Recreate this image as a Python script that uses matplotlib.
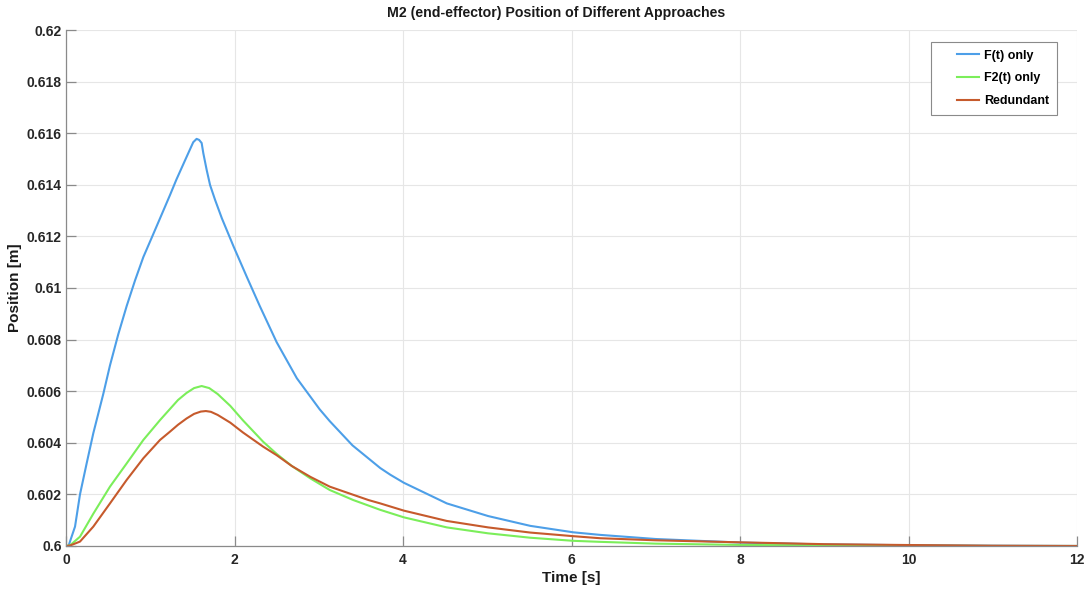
import numpy as np
import matplotlib.pyplot as plt
from matplotlib.legend_handler import HandlerLine2D

# values (time in s, position in m)
t_f = [0.0, 0.03, 0.05, 0.107, 0.166, 0.245, 0.324, 0.443, 0.522, 0.62, 0.72, 0.82, 0.918,
       1.02, 1.116, 1.234, 1.31, 1.42, 1.51, 1.55, 1.58, 1.61, 1.63, 1.67, 1.71, 1.77, 1.85,
       1.99, 2.15, 2.30, 2.50, 2.74, 3.01, 3.13, 3.40, 3.73, 3.85, 4.01, 4.52, 5.01, 5.51,
       6.02, 6.34, 7.0, 8.02, 9.0, 10.0, 11.0, 12.0]
pos_f = [0.6, 0.6, 0.6002, 0.60075, 0.6020, 0.6032, 0.60437, 0.6059, 0.6070, 0.6082, 0.6093,
         0.6103, 0.6112, 0.61197, 0.6127, 0.6136, 0.6142, 0.6150, 0.61565, 0.61578, 0.61574,
         0.61562, 0.61522, 0.61457, 0.61399, 0.61341, 0.6127, 0.6116, 0.6104, 0.6093, 0.6079,
         0.6065, 0.6053, 0.60484, 0.6039, 0.60302, 0.60276, 0.60245, 0.60165, 0.60116,
         0.60078, 0.60053, 0.60043, 0.60027, 0.60013, 0.60006, 0.60003, 0.60001, 0.6]

t_f2 = [0.0, 0.05, 0.166, 0.324, 0.522, 0.72, 0.918, 1.116, 1.33, 1.43, 1.52, 1.61, 1.70,
        1.80, 1.95, 2.10, 2.34, 2.50, 2.68, 2.90, 3.13, 3.41, 3.73, 4.01, 4.52, 5.01, 5.51,
        6.02, 6.34, 7.0, 8.02, 9.0, 10.0, 11.0, 12.0]
pos_f2 = [0.6, 0.60003, 0.60036, 0.60125, 0.6023, 0.6032, 0.60411, 0.60488, 0.60566,
          0.60593, 0.60612, 0.6062, 0.60612, 0.60589, 0.60543, 0.60487, 0.60404, 0.60357,
          0.6031, 0.60262, 0.60217, 0.60178, 0.6014, 0.60111, 0.60072, 0.60049, 0.60032,
          0.6002, 0.60016, 0.60009, 0.60004, 0.60002, 0.60001, 0.6, 0.6]

t_red = [0.0, 0.05, 0.166, 0.324, 0.522, 0.72, 0.918, 1.116, 1.23, 1.33, 1.43, 1.52, 1.60,
         1.66, 1.72, 1.80, 1.95, 2.10, 2.34, 2.50, 2.68, 2.90, 3.13, 3.59, 3.73, 4.01, 4.52,
         5.01, 5.51, 6.02, 6.34, 7.0, 8.02, 9.0, 9.9, 11.0, 12.0]
pos_red = [0.6, 0.60002, 0.60017, 0.60075, 0.60165, 0.60256, 0.6034, 0.60411, 0.60442,
           0.6047, 0.60494, 0.60512, 0.60521, 0.60523, 0.6052, 0.60508, 0.60478, 0.6044,
           0.60385, 0.60352, 0.6031, 0.60268, 0.6023, 0.60178, 0.60165, 0.60137, 0.60097,
           0.60072, 0.60052, 0.60038, 0.6003, 0.60022, 0.60014, 0.60007, 0.60004, 0.60001, 0.6]

labels = ['F(t) only', 'F2(t) only', 'Redundant']
colors = ['#4d9fe8', '#7bee5a', '#c65a2c']


class RightLine(HandlerLine2D):
    # matlab legends draw the sample line only in the right part of the handle box
    def create_artists(self, legend, orig_handle, xdescent, ydescent, width, height, fontsize, trans):
        arts = super().create_artists(legend, orig_handle, xdescent, ydescent, width, height,
                                      fontsize, trans)
        for a in arts:
            xd = np.asarray(a.get_xdata(), dtype=float)
            x0, x1 = xd[0], xd[-1]
            a.set_xdata(np.linspace(x0 + 0.45 * (x1 - x0), x1, len(xd)))
        return arts


plt.rcParams['font.family'] = ['Liberation Sans', 'DejaVu Sans']
plt.rcParams['font.weight'] = 'bold'

fig = plt.figure(figsize=(10.91, 5.93), dpi=100)
ax = fig.add_axes([0.0605, 0.0793, 0.9267, 0.8701])

lines = []
for (x, y), lab, c in zip([(t_f, pos_f), (t_f2, pos_f2), (t_red, pos_red)], labels, colors):
    ln, = ax.plot(x, y, color=c, linewidth=1.5, label=lab)
    lines.append(ln)

ax.set_xlim(0, 12)
ax.set_ylim(0.6, 0.62)
ax.set_xticks(range(0, 13, 2))
ax.set_yticks([0.6 + 0.002 * i for i in range(11)])
ax.set_yticklabels(['0.6', '0.602', '0.604', '0.606', '0.608', '0.61', '0.612', '0.614',
                    '0.616', '0.618', '0.62'])
ax.grid(True, color='#e6e6e6', linewidth=0.8)
ax.set_axisbelow(True)
for s in ['top', 'right']:
    ax.spines[s].set_visible(False)
for s in ['left', 'bottom']:
    ax.spines[s].set_color('#8a8a8a')
    ax.spines[s].set_linewidth(0.9)
ax.tick_params(direction='in', length=7, width=0.9, color='#8a8a8a', labelsize=10,
               labelcolor='#262626')
ax.tick_params(axis='x', pad=5)
ax.tick_params(axis='y', pad=3)

fig.text(556 / 1091, 1 - 12.7 / 593, 'M2 (end-effector) Position of Different Approaches',
         fontsize=10.2, fontweight='bold', color='#1a1a1a', ha='center', va='center')
ax.set_xlabel('Time [s]', fontsize=11, fontweight='bold', color='#1a1a1a', labelpad=3)
ax.set_ylabel('Position [m]', fontsize=11, fontweight='bold', color='#1a1a1a')
ax.yaxis.set_label_coords(-0.0435, 0.5)

leg = ax.legend(handles=lines, loc='upper right', fontsize=9, fancybox=False, framealpha=1,
                edgecolor='#8a8a8a', borderpad=0.6, labelspacing=0.88, handlelength=3.2,
                handletextpad=0.45, borderaxespad=0,
                bbox_to_anchor=(1057 / 1091, 1 - 42 / 593), bbox_transform=fig.transFigure,
                handler_map={ln: RightLine() for ln in lines})
leg.get_frame().set_linewidth(0.8)

fig.savefig('out.png', dpi=100)
